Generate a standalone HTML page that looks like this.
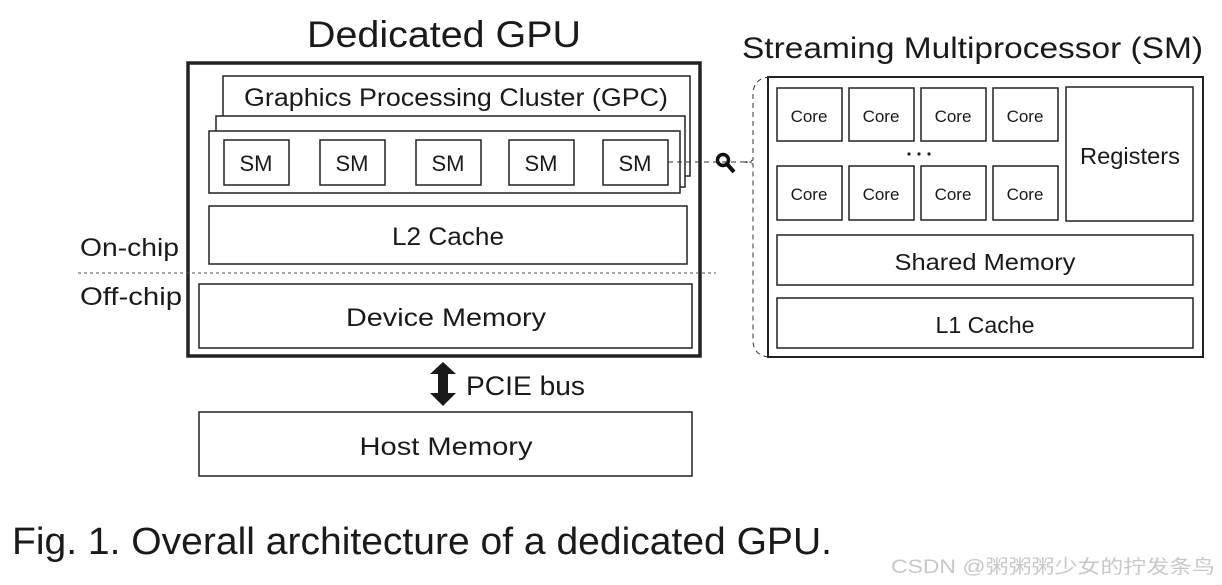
<!DOCTYPE html>
<html><head><meta charset="utf-8"><style>
html,body{margin:0;padding:0;background:#fff;width:1222px;height:585px;overflow:hidden}
svg{display:block}
text{font-family:"Liberation Sans","Noto Sans CJK SC",sans-serif;fill:#1a1a1a}
</style></head><body>
<svg width="1222" height="585" viewBox="0 0 1222 585" xmlns="http://www.w3.org/2000/svg">
<g fill="#fff" stroke="#222" stroke-width="1.5">
<!-- GPU outer -->
<rect x="188" y="63" width="512" height="293" stroke-width="3.5"/>
<!-- GPC stack -->
<rect x="223" y="76" width="467" height="100"/>
<rect x="216" y="116" width="469" height="71"/>
<rect x="209" y="131" width="471" height="62"/>
<rect x="224" y="140" width="65" height="45"/>
<rect x="320" y="140" width="65" height="45"/>
<rect x="416" y="140" width="65" height="45"/>
<rect x="509" y="140" width="65" height="45"/>
<rect x="603" y="140" width="65" height="45"/>
<rect x="209" y="206" width="478" height="58"/>
<rect x="199" y="284" width="493" height="64"/>
<rect x="199" y="412" width="493" height="64"/>
<!-- SM detail -->
<rect x="768" y="77" width="435" height="280" stroke-width="2"/>
<rect x="777" y="88" width="65" height="53"/>
<rect x="849" y="88" width="65" height="53"/>
<rect x="921" y="88" width="65" height="53"/>
<rect x="993" y="88" width="65" height="53"/>
<rect x="777" y="166" width="65" height="54"/>
<rect x="849" y="166" width="65" height="54"/>
<rect x="921" y="166" width="65" height="54"/>
<rect x="993" y="166" width="65" height="54"/>
<rect x="1066" y="87" width="127" height="134"/>
<rect x="777" y="235" width="416" height="50"/>
<rect x="777" y="298" width="416" height="50"/>
</g>
<!-- dashed lines -->
<line x1="78" y1="273" x2="716" y2="273" stroke="#555" stroke-width="1" stroke-dasharray="3,3"/>
<line x1="668" y1="162" x2="752" y2="162" stroke="#333" stroke-width="1" stroke-dasharray="5,4"/>
<path d="M770 77 Q753 78 753 95 L753 160 L745 162 L753 164 L753 340 Q753 356 770 357" fill="none" stroke="#333" stroke-width="1" stroke-dasharray="5,4"/>
<!-- magnifier -->
<circle cx="723" cy="160" r="5.5" fill="none" stroke="#111" stroke-width="3.5"/>
<line x1="727" y1="164" x2="734" y2="172" stroke="#111" stroke-width="4"/>
<!-- dots -->
<circle cx="909" cy="154" r="1.6" fill="#222"/><circle cx="919" cy="154" r="1.6" fill="#222"/><circle cx="929" cy="154" r="1.6" fill="#222"/>
<!-- arrow -->
<path d="M443 362 L456 374 L448 374 L448 393 L456 393 L443 406 L430 393 L438 393 L438 374 L430 374 Z" fill="#1a1a1a"/>
<!-- texts -->
<text x="444" y="47" font-size="37" text-anchor="middle" textLength="274" lengthAdjust="spacingAndGlyphs">Dedicated GPU</text>
<text x="742" y="58" font-size="30" textLength="461" lengthAdjust="spacingAndGlyphs">Streaming Multiprocessor (SM)</text>
<text x="244" y="106" font-size="25" textLength="424" lengthAdjust="spacingAndGlyphs">Graphics Processing Cluster (GPC)</text>
<g font-size="22" text-anchor="middle">
<text x="256" y="171">SM</text><text x="352" y="171">SM</text><text x="448" y="171">SM</text><text x="541" y="171">SM</text><text x="635" y="171">SM</text>
</g>
<text x="448" y="245" font-size="25" text-anchor="middle" textLength="112" lengthAdjust="spacingAndGlyphs">L2 Cache</text>
<text x="80" y="256" font-size="25" textLength="99" lengthAdjust="spacingAndGlyphs">On-chip</text>
<text x="80" y="305" font-size="25" textLength="102" lengthAdjust="spacingAndGlyphs">Off-chip</text>
<text x="446" y="326" font-size="25" text-anchor="middle" textLength="200" lengthAdjust="spacingAndGlyphs">Device Memory</text>
<text x="466" y="395" font-size="27" textLength="119" lengthAdjust="spacingAndGlyphs">PCIE bus</text>
<text x="446" y="455" font-size="25" text-anchor="middle" textLength="173" lengthAdjust="spacingAndGlyphs">Host Memory</text>
<g font-size="17" text-anchor="middle">
<text x="809" y="122">Core</text><text x="881" y="122">Core</text><text x="953" y="122">Core</text><text x="1025" y="122">Core</text>
<text x="809" y="200">Core</text><text x="881" y="200">Core</text><text x="953" y="200">Core</text><text x="1025" y="200">Core</text>
</g>
<text x="1130" y="164" font-size="23" text-anchor="middle" textLength="100" lengthAdjust="spacingAndGlyphs">Registers</text>
<text x="985" y="270" font-size="23" text-anchor="middle" textLength="181" lengthAdjust="spacingAndGlyphs">Shared Memory</text>
<text x="985" y="333" font-size="23" text-anchor="middle" textLength="99" lengthAdjust="spacingAndGlyphs">L1 Cache</text>
<text x="12" y="554" font-size="38" textLength="820" lengthAdjust="spacingAndGlyphs">Fig. 1. Overall architecture of a dedicated GPU.</text>
<text x="891" y="573" font-size="19" style="fill:#c8c8c8" textLength="324" lengthAdjust="spacingAndGlyphs">CSDN @粥粥粥少女的拧发条鸟</text>
</svg>
</body></html>
